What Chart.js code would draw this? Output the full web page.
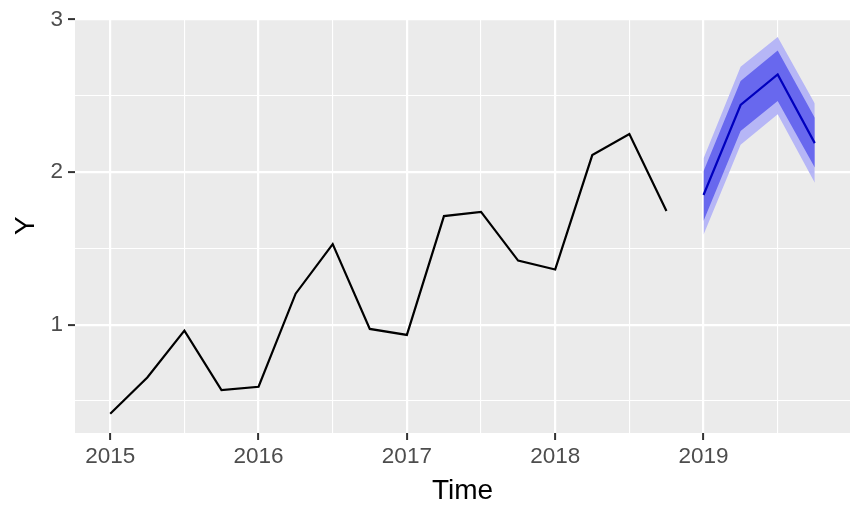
<!DOCTYPE html>
<html>
<head>
<meta charset="utf-8">
<script src="https://cdn.jsdelivr.net/npm/chart.js@4"></script>
<style>
  html, body { margin: 0; padding: 0; background: #ffffff; }
  #wrap { width: 864px; height: 518px; }
</style>
</head>
<body>
<div id="wrap"><canvas id="fcChart" width="864" height="518"></canvas></div>
<script>
// observed quarterly series
const obsTime = [2015, 2015.25, 2015.5, 2015.75, 2016, 2016.25, 2016.5, 2016.75,
                 2017, 2017.25, 2017.5, 2017.75, 2018, 2018.25, 2018.5, 2018.75];
const observed = [0.416, 0.654, 0.961, 0.571, 0.593, 1.203, 1.528, 0.972,
                  0.933, 1.712, 1.740, 1.420, 1.362, 2.112, 2.249, 1.745];

// forecast + intervals
const fcTime = [2019, 2019.25, 2019.5, 2019.75];
const fcMean = [1.85, 2.44, 2.64, 2.19];
const lo80 = [1.68, 2.27, 2.466, 2.03];
const hi80 = [2.005, 2.597, 2.797, 2.357];
const lo95 = [1.59, 2.18, 2.38, 1.93];
const hi95 = [2.09, 2.69, 2.886, 2.45];

// ticks (integers labelled, halves are minor grid lines)
const xTicks = [2015, 2015.5, 2016, 2016.5, 2017, 2017.5, 2018, 2018.5, 2019, 2019.5];
const yTicks = [0.5, 1, 1.5, 2, 2.5, 3];

const xRange = [2014.7625, 2019.9875];
const yRange = [0.29, 3.007];

function pts(xs, ys) {
    return xs.map((x, i) => ({x: x, y: ys[i]}));
}

const isMajor = v => Math.abs(v - Math.round(v)) < 1e-9;

// grey panel behind the plot
const panelBg = {
    id: 'panelBg',
    beforeDraw(chart) {
        const a = chart.chartArea;
        const ctx = chart.ctx;
        ctx.save();
        ctx.fillStyle = '#EBEBEB';
        ctx.fillRect(a.left, a.top, a.right - a.left, a.bottom - a.top);
        ctx.restore();
    }
};

const font = 'Liberation Sans, Arial, Helvetica, sans-serif';

var ctx = document.getElementById('fcChart').getContext('2d');
var fcChart = new Chart(ctx, {
    type: 'line',
    data: {
        datasets: [{
            label: 'hi95',
            data: pts(fcTime, hi95),
            borderWidth: 0,
            pointRadius: 0,
            backgroundColor: 'rgb(182,182,246)',
            fill: 1,
            order: 5
        },
        {
            label: 'lo95',
            data: pts(fcTime, lo95),
            borderWidth: 0,
            pointRadius: 0,
            fill: false,
            order: 6
        },
        {
            label: 'hi80',
            data: pts(fcTime, hi80),
            borderWidth: 0,
            pointRadius: 0,
            backgroundColor: 'rgb(104,104,238)',
            fill: 3,
            order: 3
        },
        {
            label: 'lo80',
            data: pts(fcTime, lo80),
            borderWidth: 0,
            pointRadius: 0,
            fill: false,
            order: 4
        },
        {
            label: 'Forecast',
            data: pts(fcTime, fcMean),
            borderColor: 'rgb(0,0,190)',
            borderWidth: 2.2,
            pointRadius: 0,
            fill: false,
            order: 1
        },
        {
            label: 'Y',
            data: pts(obsTime, observed),
            borderColor: '#000000',
            borderWidth: 2.2,
            pointRadius: 0,
            fill: false,
            order: 2
        }]
    },
    options: {
        responsive: false,
        animation: false,
        layout: { padding: { left: 0, top: 15, right: 14, bottom: 0 } },
        plugins: {
            legend: { display: false },
            tooltip: { enabled: false }
        },
        scales: {
            x: {
                type: 'linear',
                min: xRange[0],
                max: xRange[1],
                afterBuildTicks: axis => { axis.ticks = xTicks.map(v => ({value: v})); },
                afterFit: axis => { axis.height = 85; },
                border: { display: false },
                grid: {
                    color: '#ffffff',
                    lineWidth: c => isMajor(c.tick.value) ? 2.2 : 1.1,
                    drawTicks: true,
                    tickLength: 7,
                    tickColor: c => isMajor(c.tick.value) ? '#333333' : 'rgba(0,0,0,0)',
                    tickWidth: 2
                },
                ticks: {
                    autoSkip: false,
                    maxRotation: 0,
                    padding: 3,
                    color: '#4D4D4D',
                    font: { family: font, size: 22.5 },
                    callback: v => isMajor(v) ? String(Math.round(v)) : ''
                },
                title: {
                    display: true,
                    text: 'Time',
                    color: '#000000',
                    font: { family: font, size: 28 },
                    padding: { top: 0, bottom: 10 }
                }
            },
            y: {
                type: 'linear',
                min: yRange[0],
                max: yRange[1],
                afterBuildTicks: axis => { axis.ticks = yTicks.map(v => ({value: v})); },
                afterFit: axis => { axis.width = 75; },
                border: { display: false },
                grid: {
                    color: '#ffffff',
                    lineWidth: c => isMajor(c.tick.value) ? 2.2 : 1.1,
                    drawTicks: true,
                    tickLength: 7,
                    tickColor: c => isMajor(c.tick.value) ? '#333333' : 'rgba(0,0,0,0)',
                    tickWidth: 2
                },
                ticks: {
                    autoSkip: false,
                    padding: 5,
                    color: '#4D4D4D',
                    font: { family: font, size: 22.5 },
                    callback: v => isMajor(v) ? String(Math.round(v)) : ''
                },
                title: {
                    display: true,
                    text: 'Y',
                    color: '#000000',
                    font: { family: font, size: 28 },
                    padding: { top: 9, bottom: 0 }
                }
            }
        }
    },
    plugins: [panelBg]
});
</script>
</body>
</html>
